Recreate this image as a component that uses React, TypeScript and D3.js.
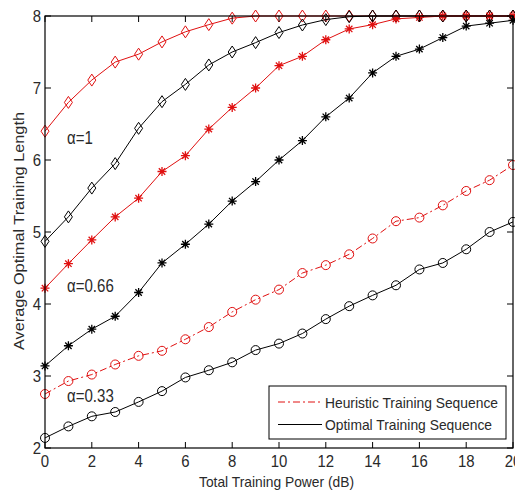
import { FC } from 'react';
import * as d3 from 'd3';

// x values (dB)
const powerDb = [0, 1, 2, 3, 4, 5, 6, 7, 8, 9, 10, 11, 12, 13, 14, 15, 16, 17, 18, 19, 20];

// alpha = 1
const heurA1 = [6.4, 6.8, 7.11, 7.36, 7.47, 7.64, 7.78, 7.88, 7.97, 8.0, 8, 8, 8, 8, 8, 8, 8, 8, 8, 8, 8];
const optA1 = [4.87, 5.21, 5.61, 5.95, 6.44, 6.81, 7.05, 7.32, 7.5, 7.63, 7.77, 7.875, 7.95, 7.99, 8, 8, 8, 8, 8, 8, 8];
// alpha = 0.66
const heurA66 = [4.22, 4.56, 4.89, 5.21, 5.47, 5.84, 6.06, 6.43, 6.73, 7.0, 7.31, 7.44, 7.67, 7.82, 7.88, 7.96, 7.98, 8, 8, 8, 8];
const optA66 = [3.14, 3.42, 3.65, 3.83, 4.16, 4.57, 4.83, 5.11, 5.43, 5.7, 6.0, 6.27, 6.6, 6.86, 7.21, 7.44, 7.54, 7.7, 7.86, 7.9, 7.94];
// alpha = 0.33
const heurA33 = [2.75, 2.93, 3.02, 3.16, 3.28, 3.35, 3.51, 3.68, 3.89, 4.06, 4.2, 4.43, 4.54, 4.69, 4.91, 5.15, 5.2, 5.37, 5.57, 5.72, 5.93];
const optA33 = [2.14, 2.3, 2.44, 2.5, 2.64, 2.79, 2.98, 3.08, 3.19, 3.36, 3.45, 3.59, 3.79, 3.97, 4.12, 4.26, 4.48, 4.57, 4.76, 5.0, 5.14];

const xTicks = [0, 2, 4, 6, 8, 10, 12, 14, 16, 18, 20];
const yTicks = [2, 3, 4, 5, 6, 7, 8];

const alphaLabels = ['α=1', 'α=0.66', 'α=0.33'];
const alphaLabelY = [6.31, 4.25, 2.72];
const legendLabels = ['Heuristic Training Sequence', 'Optimal Training Sequence'];

const RED = '#e01010';
const FONT = 'Arial, "Liberation Sans", sans-serif';
const TEXT = '#2a2a2a';

type Marker = 'diamond' | 'star' | 'circle';

interface SeriesDef {
  values: number[];
  color: string;
  dash?: string;
  marker: Marker;
}

const series: SeriesDef[] = [
  { values: heurA1, color: RED, marker: 'diamond' },
  { values: optA1, color: '#000', marker: 'diamond' },
  { values: heurA66, color: RED, marker: 'star' },
  { values: optA66, color: '#000', marker: 'star' },
  { values: heurA33, color: RED, dash: '7,3,2,3', marker: 'circle' },
  { values: optA33, color: '#000', marker: 'circle' },
];

const MarkerShape: FC<{ kind: Marker; x: number; y: number; color: string }> = ({ kind, x, y, color }) => {
  if (kind === 'diamond') {
    return <path d={`M${x},${y - 6}L${x + 4},${y}L${x},${y + 6}L${x - 4},${y}Z`} fill="none" stroke={color} strokeWidth={1} />;
  }
  if (kind === 'circle') {
    return <circle cx={x} cy={y} r={4.5} fill="none" stroke={color} strokeWidth={1} />;
  }
  const r = 4.5;
  const d = 3.2;
  return (
    <path
      d={`M${x - r},${y}H${x + r}M${x},${y - r}V${y + r}M${x - d},${y - d}L${x + d},${y + d}M${x - d},${y + d}L${x + d},${y - d}`}
      stroke={color}
      strokeWidth={1.3}
    />
  );
};

const App: FC = () => {
  const width = 515;
  const height = 493;
  const left = 45;
  const right = 513;
  const top = 16;
  const bottom = 448;

  const x = d3.scaleLinear().domain([0, 20]).range([left, right]);
  const y = d3.scaleLinear().domain([2, 8]).range([bottom, top]);

  const line = d3
    .line<number>()
    .x((_, i) => x(powerDb[i]))
    .y(d => y(d));

  const tick = 6;

  return (
    <svg width={width} height={height} style={{ position: 'absolute', left: 0, top: 0, background: '#fff' }} fontFamily={FONT}>
      <rect x={0} y={0} width={width} height={height} fill="#fff" />

      {/* series */}
      {series.map((s, si) => (
        <g key={si}>
          <path d={line(s.values) ?? ''} fill="none" stroke={s.color} strokeWidth={1} strokeDasharray={s.dash} />
          {s.values.map((v, i) => (
            <MarkerShape key={i} kind={s.marker} x={x(powerDb[i])} y={y(v)} color={s.color} />
          ))}
        </g>
      ))}

      {/* box and ticks */}
      <rect x={left} y={top} width={right - left} height={bottom - top} fill="none" stroke="#000" strokeWidth={1.2} />
      {xTicks.map(t => (
        <g key={`xt${t}`}>
          <line x1={x(t)} x2={x(t)} y1={bottom} y2={bottom - tick} stroke="#000" />
          <line x1={x(t)} x2={x(t)} y1={top} y2={top + tick} stroke="#000" />
          <text
            transform={`translate(${x(t)},${bottom + 19}) scale(0.88,1)`}
            textAnchor="middle"
            fontSize={17}
            fill={TEXT}
          >
            {t}
          </text>
        </g>
      ))}
      {yTicks.map(t => (
        <g key={`yt${t}`}>
          <line x1={left} x2={left + tick} y1={y(t)} y2={y(t)} stroke="#000" />
          <line x1={right} x2={right - tick} y1={y(t)} y2={y(t)} stroke="#000" />
          <text
            transform={`translate(${left - 4},${y(t) + 6}) scale(0.88,1)`}
            textAnchor="end"
            fontSize={17}
            fill={TEXT}
          >
            {t}
          </text>
        </g>
      ))}

      {/* axis titles */}
      <text x={199} y={487} fontSize={15} fill={TEXT} textLength={155} lengthAdjust="spacingAndGlyphs">
        Total Training Power (dB)
      </text>
      <text
        transform="translate(24,350) rotate(-90)"
        fontSize={15}
        fill={TEXT}
        textLength={238}
        lengthAdjust="spacingAndGlyphs"
      >
        Average Optimal Training Length
      </text>

      {/* alpha labels */}
      {alphaLabels.map((lab, i) => (
        <text key={lab} transform={`translate(67,${y(alphaLabelY[i]) + 6}) scale(0.86,1)`} fontSize={17.5} fill={TEXT}>
          {lab}
        </text>
      ))}

      {/* legend */}
      <rect x={269} y={386} width={237} height={53} fill="#fff" stroke="#000" strokeWidth={1} />
      {legendLabels.map((lab, i) => {
        const ly = 402 + i * 22.5;
        return (
          <g key={lab}>
            <line
              x1={278}
              x2={322}
              y1={ly}
              y2={ly}
              stroke={i === 0 ? RED : '#000'}
              strokeWidth={1}
              strokeDasharray={i === 0 ? '7,3,2,3' : undefined}
            />
            <text
              x={325}
              y={ly + 5.5}
              fontSize={15}
              fill={TEXT}
              textLength={i === 0 ? 173 : 167}
              lengthAdjust="spacingAndGlyphs"
            >
              {lab}
            </text>
          </g>
        );
      })}
    </svg>
  );
};

export default App;
